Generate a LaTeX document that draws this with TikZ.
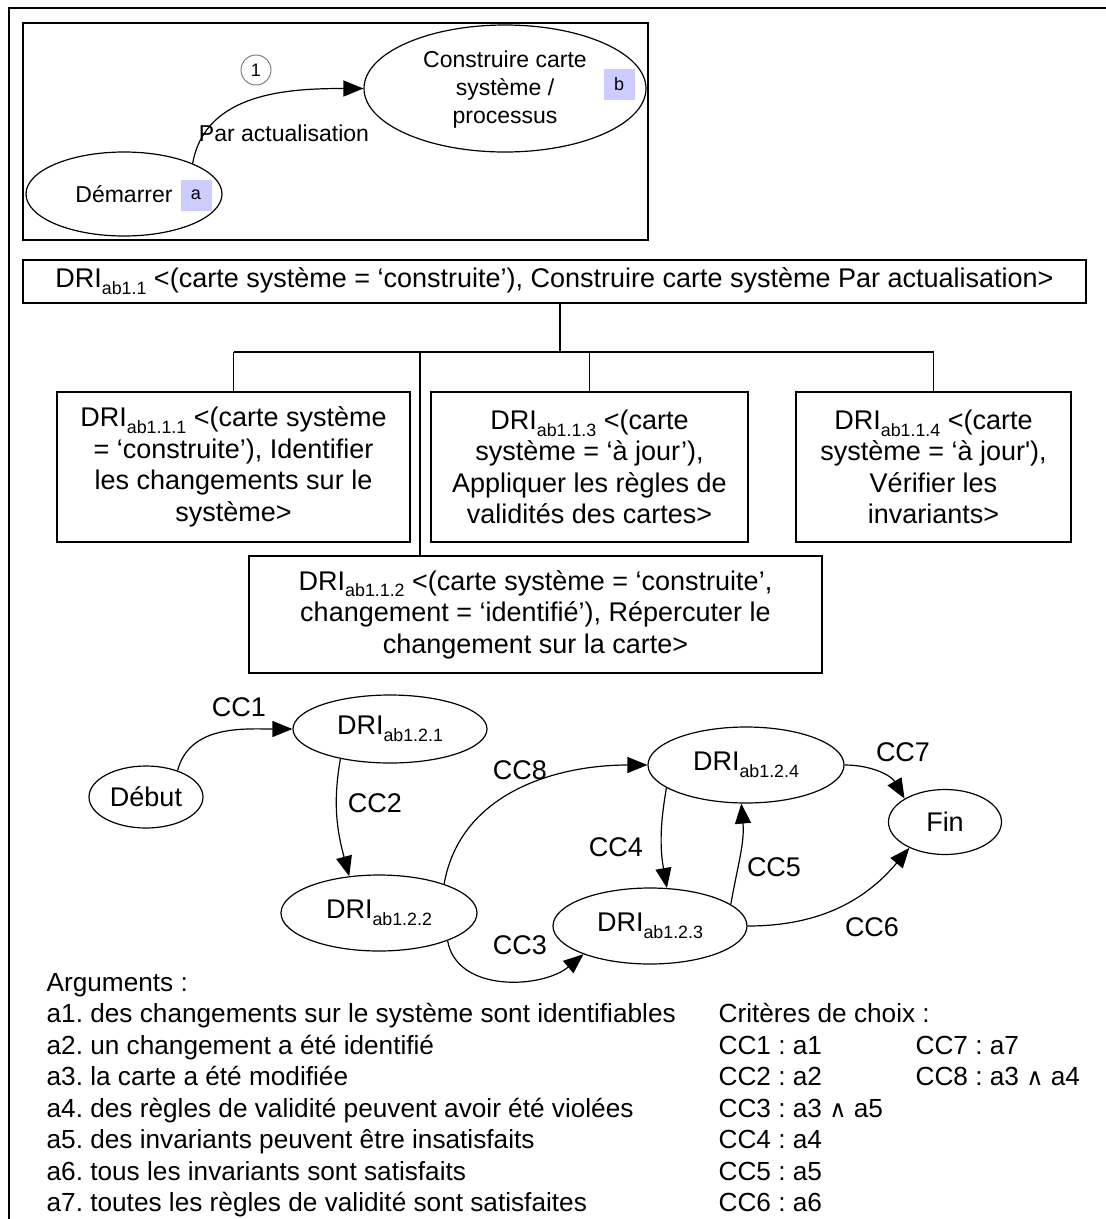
\documentclass[tikz,border=0pt]{standalone}
\usepackage{fontspec}
\setmainfont{Liberation Sans}
\newfontfamily\symfont{DejaVu Sans}
\usetikzlibrary{shapes.geometric,arrows.meta}
\definecolor{lav}{HTML}{CCCCFF}
\newcommand{\myfs}[2]{\fontsize{#1}{#2}\selectfont}
\newcommand{\dsub}[1]{\raisebox{-0.25em}{\scalebox{0.66}{#1}}}
\newcommand{\wedg}{{\symfont\scalebox{0.9}{∧}}}
\frenchspacing
\begin{document}
\begin{tikzpicture}[x=1pt,y=1pt,line width=1.3pt,
  ell/.style={draw,ellipse,inner sep=0pt,line width=1.2pt},
  boxn/.style={draw,rectangle,inner sep=0pt,align=center,line width=1.4pt,font=\myfs{27}{31.5}},
  arr/.style={-{Triangle[length=20pt,width=16pt]},line width=1.2pt},
  lbl/.style={inner sep=0pt,font=\myfs{27}{31.5}},
  tlbl/.style={inner sep=0pt,font=\myfs{23}{28},align=center},
  tag/.style={fill=lav,minimum size=31pt,inner sep=0pt,font=\myfs{18}{18}},
  gn/.style={ell,font=\myfs{27}{27}},
  txt/.style={inner sep=0pt,anchor=base west,font=\myfs{26.2}{31.5}}]
\useasboundingbox (0,0) rectangle (1106,-1219);
% outer frame (open at right and bottom)
\draw (1106,-8) -- (9,-8) -- (9,-1219);
% top inner box
\draw (23,-23) rectangle (648,-240);
\node[ell,minimum width=196pt,minimum height=84pt] (dem) at (124,-194) {};
\node[tlbl] (demt) at (124,-194) {Démarrer};
\node[tag] (ta) at (196,-195) {a};
\node[ell,minimum width=282pt,minimum height=127pt] (cons) at (505,-88.5) {};
\node[tlbl] (const) at (505,-90) {Construire carte\\système /\\processus};
\node[tag] (tb) at (619,-84) {b};
\node[circle,draw=gray,line width=1pt,minimum size=30pt,inner sep=0pt,font=\myfs{18}{18}] (c1) at (256,-70) {1};
\draw[arr] (dem.24) to[out=80,in=180] (cons.west);
\node[tlbl] (lpa) at (284,-133) {Par actualisation};
% tree
\node[boxn,minimum width=1063pt,minimum height=43pt] (b11) at (554.5,-281.5)
  {DRI\dsub{ab1.1} <(carte système = ‘construite’), Construire carte système Par actualisation>};
\node[boxn,minimum width=353pt,minimum height=150pt] (b111) at (233.5,-467)
  {DRI\dsub{ab1.1.1} <(carte système\\= ‘construite’), Identifier\\les changements sur le\\système>};
\node[boxn,minimum width=317pt,minimum height=150pt] (b113) at (589.5,-467)
  {DRI\dsub{ab1.1.3} <(carte\\système = ‘à jour’),\\Appliquer les règles de\\validités des cartes>};
\node[boxn,minimum width=275pt,minimum height=150pt] (b114) at (933.5,-467)
  {DRI\dsub{ab1.1.4} <(carte\\système = ‘à jour\textquotesingle),\\Vérifier les\\invariants>};
\node[boxn,minimum width=573pt,minimum height=117pt] (b112) at (535.5,-614.5)
  {DRI\dsub{ab1.1.2} <(carte système = ‘construite’,\\changement = ‘identifié’), Répercuter le\\changement sur la carte>};
\coordinate (jn) at (560,-352);
\coordinate (jx) at (420,-352);
\draw (b11.south -| jn) -- (jn);
\draw (b111.north |- jn) -- (b114.north |- jn);
\draw (b111.north |- jn) -- (b111.north);
\draw (b113.north |- jn) -- (b113.north);
\draw (b114.north |- jn) -- (b114.north);
\draw (jx) -- (jx |- b112.north);
% graph
\node[gn,minimum width=114pt,minimum height=62pt] (deb) at (146,-797) {Début};
\node[gn,minimum width=194pt,minimum height=68pt] (d121) at (390,-729) {DRI\dsub{ab1.2.1}};
\node[gn,minimum width=196pt,minimum height=76pt] (d122) at (379,-913) {DRI\dsub{ab1.2.2}};
\node[gn,minimum width=196pt,minimum height=76pt] (d124) at (746,-765) {DRI\dsub{ab1.2.4}};
\node[gn,minimum width=194pt,minimum height=76pt] (d123) at (650,-926) {DRI\dsub{ab1.2.3}};
\node[gn,minimum width=113pt,minimum height=65pt] (fin) at (945,-822) {Fin};
\draw[arr] (deb.40) to[out=75,in=180] (d121.west);
\draw[arr] (d121.211) to[out=260,in=105] (d122.129);
\draw[arr] (d122.24) to[out=80,in=180] (d124.west);
\draw[arr] (d122.-22) to[out=-80,in=220] (d123.203);
\draw[arr] (d124.196) to[out=260,in=100] (d123.66);
\draw[arr] (d123.15) to[out=80,in=-85] (d124.263);
\draw[arr] (d124.east) to[out=0,in=120] (fin.150);
\draw[arr] (d123.east) to[out=0,in=230] (fin.216);
\node[lbl] (l1) at (239,-707) {CC1};
\node[lbl] (l2) at (375,-803) {CC2};
\node[lbl] (l8) at (520,-770) {CC8};
\node[lbl] (l3) at (520,-945) {CC3};
\node[lbl] (l4) at (616,-847) {CC4};
\node[lbl] (l5) at (774,-867) {CC5};
\node[lbl] (l7) at (903,-752) {CC7};
\node[lbl] (l6) at (872,-927) {CC6};
% bottom text
\node[txt] (t0) at (46,-991) {Arguments :};
\node[txt] (t1) at (46,-1022.5) {a1. des changements sur le système sont identifiables};
\node[txt] (t2) at (46,-1054) {a2. un changement a été identifié};
\node[txt] (t3) at (46,-1085.5) {a3. la carte a été modifiée};
\node[txt] (t4) at (46,-1117) {a4. des règles de validité peuvent avoir été violées};
\node[txt] (t5) at (46,-1148.5) {a5. des invariants peuvent être insatisfaits};
\node[txt] (t6) at (46,-1180) {a6. tous les invariants sont satisfaits};
\node[txt] (t7) at (46,-1211.5) {a7. toutes les règles de validité sont satisfaites};
\node[txt] (r0) at (718,-1022.5) {Critères de choix :};
\node[txt] (r1) at (718,-1054) {CC1 : a1};
\node[txt] (r7) at (915,-1054) {CC7 : a7};
\node[txt] (r2) at (718,-1085.5) {CC2 : a2};
\node[txt] (r8) at (915,-1085.5) {CC8 : a3 \wedg{} a4};
\node[txt] (r3) at (718,-1117) {CC3 : a3 \wedg{} a5};
\node[txt] (r4) at (718,-1148.5) {CC4 : a4};
\node[txt] (r5) at (718,-1180) {CC5 : a5};
\node[txt] (r6) at (718,-1211.5) {CC6 : a6};
\end{tikzpicture}
\end{document}
